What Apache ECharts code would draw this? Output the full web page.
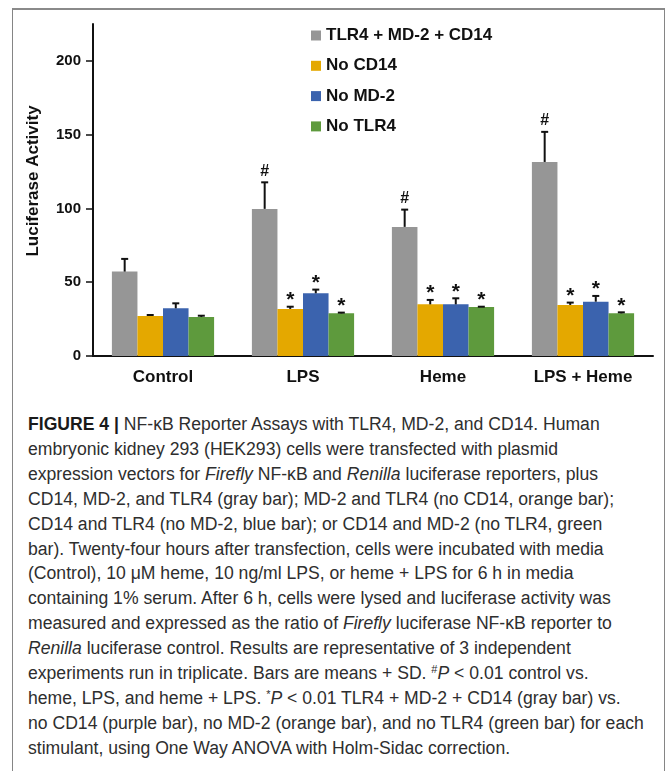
<!DOCTYPE html>
<html>
<head>
<meta charset="utf-8">
<script src="https://cdn.jsdelivr.net/npm/echarts@6/dist/echarts.min.js"></script>
<style>
  html, body { margin: 0; padding: 0; background: #ffffff; }
  body { width: 667px; height: 771px; position: relative; overflow: hidden; }
  #frame { position: absolute; left: 12px; top: 8px; width: 653px; height: 800px;
           border: 1px solid #858585; border-top: 2px solid #8a8a8a; border-bottom: none; box-sizing: border-box; }
  #chart { position: absolute; left: 0; top: 0; width: 667px; height: 400px; }
  #caption { position: absolute; left: 28px; top: 412px; font-family: "Liberation Sans", Arial, sans-serif;
             font-size: 17.6px; line-height: 24.9px; color: #2e2e2e; white-space: nowrap; }
  #caption b { color: #1a1a1a; }
  sup { font-size: 11px; line-height: 0; vertical-align: 6px; }
</style>
</head>
<body>
<div id="frame"></div>
<div id="chart"></div>
<div id="caption">
<b>FIGURE 4 |</b> NF-κB Reporter Assays with TLR4, MD-2, and CD14. Human<br>
embryonic kidney 293 (HEK293) cells were transfected with plasmid<br>
expression vectors for <i>Firefly</i> NF-κB and <i>Renilla</i> luciferase reporters, plus<br>
CD14, MD-2, and TLR4 (gray bar); MD-2 and TLR4 (no CD14, orange bar);<br>
CD14 and TLR4 (no MD-2, blue bar); or CD14 and MD-2 (no TLR4, green<br>
bar). Twenty-four hours after transfection, cells were incubated with media<br>
(Control), 10 μM heme, 10 ng/ml LPS, or heme + LPS for 6 h in media<br>
containing 1% serum. After 6 h, cells were lysed and luciferase activity was<br>
measured and expressed as the ratio of <i>Firefly</i> luciferase NF-κB reporter to<br>
<i>Renilla</i> luciferase control. Results are representative of 3 independent<br>
experiments run in triplicate. Bars are means + SD. <sup>#</sup><i>P</i> &lt; 0.01 control vs.<br>
heme, LPS, and heme + LPS. <sup>*</sup><i>P</i> &lt; 0.01 TLR4 + MD-2 + CD14 (gray bar) vs.<br>
no CD14 (purple bar), no MD-2 (orange bar), and no TLR4 (green bar) for each<br>
stimulant, using One Way ANOVA with Holm-Sidac correction.
</div>
<script>
// ---- data ----
const categories = ['Control', 'LPS', 'Heme', 'LPS + Heme'];
const seriesNames = ['TLR4 + MD-2 + CD14', 'No CD14', 'No MD-2', 'No TLR4'];
const grayMeans   = [57.2, 99.7, 87.5, 131.5];
const orangeMeans = [27.1, 31.9, 35.0, 34.6];
const blueMeans   = [32.3, 42.5, 35.0, 36.8];
const greenMeans  = [26.4, 28.9, 33.2, 28.9];
const graySD   = [8.6, 18.0, 11.7, 20.4];
const orangeSD = [0.7, 1.5, 3.0, 1.6];
const blueSD   = [3.4, 2.5, 4.1, 3.9];
const greenSD  = [0.9, 0.5, 0.2, 0.7];
const grayMarks   = ['', '#', '#', '#'];
const orangeMarks = ['', '*', '*', '*'];
const blueMarks   = ['', '*', '*', '*'];
const greenMarks  = ['', '*', '*', '*'];
const yTicks = [0, 50, 100, 150, 200];

const means = [grayMeans, orangeMeans, blueMeans, greenMeans];
const sds = [graySD, orangeSD, blueSD, greenSD];
const marks = [grayMarks, orangeMarks, blueMarks, greenMarks];
const colors = ['#969696', '#E4A800', '#3B63AE', '#5E9A3D'];

const CAT_GAP = 0.27;
const chart = echarts.init(document.getElementById('chart'), null, { renderer: 'canvas' });

function errRender(idx) {
  return function (params, api) {
    const cat = api.value(0);
    const v = api.value(1);
    const top = api.value(2);
    const mark = marks[idx][params.dataIndex];
    const band = api.size([1, 0])[0];
    const groupW = band * (1 - CAT_GAP);
    const barW = groupW / 4;
    const c = api.coord([cat, v]);
    const x = c[0] - groupW / 2 + barW * (idx + 0.5);
    const y0 = c[1];
    const y1 = api.coord([cat, top])[1];
    const children = [
      { type: 'line', shape: { x1: x, y1: y0, x2: x, y2: y1 }, style: { stroke: '#111', lineWidth: 2 } },
      { type: 'line', shape: { x1: x - 3.5, y1: y1, x2: x + 3.5, y2: y1 }, style: { stroke: '#111', lineWidth: 2 } }
    ];
    if (mark) {
      const isHash = mark === '#';
      children.push({
        type: 'text',
        style: {
          text: mark, x: x, y: isHash ? y1 - 3 : y1 + 4,
          align: 'center', verticalAlign: 'bottom',
          font: isHash ? 'bold 16px "Liberation Sans", Arial, sans-serif' : 'bold 21px "Liberation Sans", Arial, sans-serif',
          fill: '#111'
        }
      });
    }
    return { type: 'group', children: children };
  };
}

const series = [];
seriesNames.forEach((name, i) => {
  series.push({
    name: name, type: 'bar', data: means[i], barGap: '0%', barCategoryGap: (CAT_GAP * 100) + '%',
    itemStyle: { color: colors[i] }, z: 2
  });
});
seriesNames.forEach((name, i) => {
  series.push({
    type: 'custom', name: name + ' SD', renderItem: errRender(i), z: 3,
    data: means[i].map((m, k) => [k, m, m + sds[i][k]]),
    encode: { x: 0, y: [1, 2] }, silent: true
  });
});

chart.setOption({
  animation: false,
  textStyle: { fontFamily: '"Liberation Sans", Arial, sans-serif' },
  grid: { left: 93, right: 14, top: 24, bottom: 44 },
  legend: {
    data: seriesNames, orient: 'vertical', left: 311, top: 27, padding: 0, icon: 'rect',
    itemWidth: 10, itemHeight: 10, itemGap: 13.3,
    textStyle: { fontSize: 17, fontWeight: 'bold', color: '#111' }
  },
  xAxis: {
    type: 'category', data: categories,
    axisLine: { lineStyle: { color: '#111', width: 2 } },
    axisTick: { show: false },
    axisLabel: { fontSize: 17, fontWeight: 'bold', color: '#111', margin: 13 }
  },
  yAxis: {
    type: 'value', min: 0, max: 225, interval: 50,
    name: 'Luciferase Activity', nameLocation: 'middle', nameRotate: 90, nameGap: 51,
    nameTextStyle: { fontSize: 17, fontWeight: 'bold', color: '#111', padding: [0, 0, 0, 18] },
    axisLine: { show: true, lineStyle: { color: '#111', width: 2 } },
    axisTick: { show: true, length: 7, lineStyle: { color: '#111', width: 1.5 } },
    axisLabel: { fontSize: 15, fontWeight: 'bold', color: '#111', margin: 12, showMaxLabel: false,
                 formatter: v => (yTicks.indexOf(v) >= 0 ? String(v) : '') },
    splitLine: { show: false }
  },
  series: series
});
</script>
</body>
</html>
